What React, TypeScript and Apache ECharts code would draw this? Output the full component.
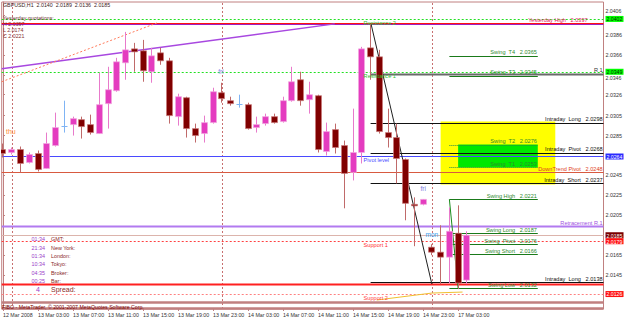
import React, { useEffect, useRef } from "react";
import * as echarts from "echarts";

// ---------------- data ----------------
const opens = [
  2.0271, 2.0268, 2.0271, 2.0258, 2.0267, 2.0252, 2.0275, 2.0295, 2.0296, 2.0301,
  2.0296, 2.0287, 2.0317, 2.0330, 2.0358, 2.0372, 2.0370, 2.0349, 2.0368, 2.0360,
  2.0304, 2.0323, 2.0292, 2.0287, 2.0298, 2.0328, 2.0320, 2.0317, 2.0316, 2.0293,
  2.0297, 2.0304, 2.0299, 2.0320, 2.0341, 2.0321, 2.0325, 2.0269, 2.0291, 2.0275,
  2.0248, 2.0268, 2.0373, 2.0364, 2.0288, 2.0283, 2.0261, 2.0216, 2.0216, 2.0173,
  2.0168, 2.0163, 2.0187, 2.0140,
];
const highs = [
  2.0277, 2.0273, 2.0274, 2.0268, 2.0270, 2.0288, 2.0308, 2.0320, 2.0304, 2.0304,
  2.0306, 2.0348, 2.0354, 2.0363, 2.0389, 2.0378, 2.0381, 2.0373, 2.0373, 2.0363,
  2.0327, 2.0324, 2.0297, 2.0305, 2.0333, 2.0338, 2.0324, 2.0326, 2.0318, 2.0304,
  2.0307, 2.0307, 2.0324, 2.0354, 2.0349, 2.0339, 2.0326, 2.0298, 2.0297, 2.0280,
  2.0312, 2.0374, 2.0397, 2.0371, 2.0312, 2.0297, 2.0262, 2.0223, 2.0221, 2.0176,
  2.0195, 2.0213, 2.0215, 2.0189,
];
const lows = [
  2.0263, 2.0266, 2.0248, 2.0257, 2.0249, 2.0252, 2.0274, 2.0288, 2.0285, 2.0282,
  2.0286, 2.0287, 2.0292, 2.0329, 2.0341, 2.0349, 2.0339, 2.0338, 2.0356, 2.0297,
  2.0295, 2.0283, 2.0278, 2.0278, 2.0297, 2.0318, 2.0315, 2.0313, 2.0291, 2.0288,
  2.0295, 2.0297, 2.0298, 2.0319, 2.0315, 2.0307, 2.0268, 2.0265, 2.0267, 2.0212,
  2.0240, 2.0257, 2.0341, 2.0287, 2.0273, 2.0237, 2.0200, 2.0174, 2.0215, 2.0165,
  2.0136, 2.0137, 2.0131, 2.0136,
];
const closes = [
  2.0267, 2.0271, 2.0257, 2.0266, 2.0251, 2.0277, 2.0293, 2.0295, 2.0302, 2.0294,
  2.0288, 2.0316, 2.0331, 2.0359, 2.0371, 2.0369, 2.0350, 2.0365, 2.0360, 2.0305,
  2.0324, 2.0292, 2.0285, 2.0298, 2.0329, 2.0322, 2.0317, 2.0317, 2.0292, 2.0296,
  2.0304, 2.0298, 2.0320, 2.0339, 2.0320, 2.0326, 2.0271, 2.0289, 2.0273, 2.0247,
  2.0268, 2.0372, 2.0364, 2.0289, 2.0283, 2.0262, 2.0217, 2.0215, 2.0221, 2.0168,
  2.0163, 2.0189, 2.0137, 2.0185,
];

const timeLabelBars = [0, 4, 8, 12, 16, 20, 24, 28, 32, 36, 40, 44, 48, 52];
const timeLabels = [
  "12 Mar 2008", "13 Mar 03:00", "13 Mar 07:00", "13 Mar 11:00", "13 Mar 15:00",
  "13 Mar 19:00", "13 Mar 23:00", "14 Mar 03:00", "14 Mar 07:00", "14 Mar 11:00",
  "14 Mar 15:00", "14 Mar 19:00", "14 Mar 23:00", "17 Mar 03:00",
];
const daySeparatorBars = [1, 25, 49];
const priceTicks = [
  2.0406, 2.0386, 2.0366, 2.0346, 2.0326, 2.0305, 2.0285, 2.0245, 2.0225, 2.0205, 2.0165, 2.0145,
];
const tickShiftUp = [2.0406];
const tickShiftDown = [2.0346];

const pivotNames = ["Resistance 2", "Resistance 1", "Pivot level", "Support 1", "Support 2"];
const pivotPrices = [2.0402, 2.0349, 2.0264, 2.0179, 2.0126];
const pivotLabelBar = 41.2;

const swingNames = [
  "Swing  T4", "Swing  T3", "Swing  T2", "Swing  T1", "Swing High",
  "Swing Long", "Swing  Pivot", "Swing Short", "Swing Low",
];
const swingPrices = [2.0365, 2.0345, 2.0276, 2.0253, 2.0221, 2.0187, 2.0176, 2.0166, 2.0132];
const swingFromBar = 51;
const swingToBar = 61.1;

const intradayNames = ["Intraday  Long", "Intraday  Pivot", "Intraday  Short", "Intraday  Long"];
const intradayPrices = [2.0298, 2.0268, 2.0237, 2.0138];
const intradayFromBar = 42;

const r1Price = 2.0347;
const downTrendPivot = 2.0248;
const retracementR1 = 2.0194;
const yesterdayHigh = 2.0397;
const yesterdayLow = 2.0174;
const yesterdayClose = 2.0221;
const bidPrice = 2.0185;
const redLevel = 2.0136;
const lowerBands = [2.0118, 2.0112];

const yellowZone = [50, 63.1, 2.0299, 2.0236];
const greenZone = [52, 61.1, 2.0276, 2.0253];

const purpleTrend = [[-0.148, 2.0352], [37.9, 2.0397]];
const orangeTrend = [[-0.148, 2.0339], [17.6, 2.0398]];
const blackTrend = [[42.05, 2.0397], [49, 2.0136]];
const greenTrend = [[51, 2.0221], [52, 2.0132]];
const yellowTrend = [[42.7, 2.012], [49, 2.0127], [52.5, 2.0128]];

const dayTags = ["thu", "fri", "fri", "mon"];
const dayTagBars = [0.9, 24.9, 48, 49];
const dayTagPrices = [2.0289, 2.0349, 2.0232, 2.0186];

const clockTimes = ["01:34", "21:34", "01:34", "10:34", "04:35", "00:25"];
const clockNames = ["GMT:", "New York:", "London:", "Tokyo:", "Broker:", "Bar:"];
const spreadValue = 4;

// ---------------- layout / style ----------------
const X_MIN = -0.148;
const X_MAX = 68.61;
const Y_MIN = 2.0111;
const Y_MAX = 2.0419;
const FONT = "Liberation Sans, Arial, sans-serif";
const ROSY = "#c08080";
const BULL = "#e43cbf";
const BULL_EDGE = "#f2a6df";
const BULL_WICK = "#e87acb";
const BEAR = "#800000";
const BEAR_EDGE = "#c87878";
const BEAR_WICK = "#c06a6a";
const DOJI = "#7fb4f4";

const STYLES: Record<string, any> = {
  res: { stroke: "#22e022", lineWidth: 1, lineDash: [2, 2] },
  yhRed: { stroke: "#ff1010", lineWidth: 1.2 },
  yhPurple: { stroke: "#a020c0", lineWidth: 1.2 },
  pivot: { stroke: "#4a4aff", lineWidth: 1 },
  sup1: { stroke: "#ff4040", lineWidth: 1, lineDash: [2, 2] },
  sup2: { stroke: "#ff8080", lineWidth: 1, lineDash: [2, 2] },
  down: { stroke: "#d85a40", lineWidth: 1 },
  retr: { stroke: "#b27af0", lineWidth: 2 },
  bid: { stroke: "#dcb4ac", lineWidth: 1 },
  red: { stroke: "#ff2020", lineWidth: 2 },
  band: { stroke: ROSY, lineWidth: 2.5 },
  intra: { stroke: "#111111", lineWidth: 1.2 },
  r1: { stroke: "#6a6a6a", lineWidth: 2 },
  swing: { stroke: "#1a7a1a", lineWidth: 1.2 },
  swingDot: { stroke: "#2a8a4a", lineWidth: 1, lineDash: [1, 1] },
  sep: { stroke: "#c87070", lineWidth: 1, lineDash: [2, 2] },
  tPurple: { stroke: "#a848e0", lineWidth: 1.4 },
  tOrange: { stroke: "#ff7a5a", lineWidth: 1, lineDash: [2, 2] },
  tBlack: { stroke: "#202020", lineWidth: 1 },
  tGreen: { stroke: "#1a8a1a", lineWidth: 1 },
  tYellow: { stroke: "#f0c030", lineWidth: 1 },
};

type Seg = { x1: number; x2: number; p1: number; p2: number; st: string };
type Lbl = { x: number; p: number; text: string; color: string; align: string; vAlign: string; size: number; dy: number };

function buildSegments(): Seg[] {
  const s: Seg[] = [];
  const full = (p: number, st: string) => s.push({ x1: X_MIN, x2: X_MAX, p1: p, p2: p, st });
  daySeparatorBars.forEach((b) => s.push({ x1: b, x2: b, p1: Y_MIN, p2: Y_MAX, st: "sep" }));
  pivotPrices.forEach((p, i) => full(p, ["res", "res", "pivot", "sup1", "sup2"][i]));
  full(yesterdayHigh + 0.0001, "yhRed");
  full(yesterdayHigh, "yhPurple");
  full(downTrendPivot, "down");
  full(retracementR1, "retr");
  full(bidPrice, "bid");
  full(redLevel, "red");
  lowerBands.forEach((p) => full(p, "band"));
  s.push({ x1: intradayFromBar, x2: X_MAX, p1: r1Price, p2: r1Price, st: "r1" });
  intradayPrices.forEach((p) => s.push({ x1: intradayFromBar, x2: X_MAX, p1: p, p2: p, st: "intra" }));
  swingPrices.forEach((p, i) =>
    s.push({ x1: swingFromBar, x2: swingToBar, p1: p, p2: p, st: i === 2 || i === 3 ? "swingDot" : "swing" })
  );
  const trend = (pts: number[][], st: string) => {
    for (let i = 0; i < pts.length - 1; i++)
      s.push({ x1: pts[i][0], x2: pts[i + 1][0], p1: pts[i][1], p2: pts[i + 1][1], st });
  };
  trend(purpleTrend, "tPurple");
  trend(orangeTrend, "tOrange");
  trend(blackTrend, "tBlack");
  trend(greenTrend, "tGreen");
  trend(yellowTrend, "tYellow");
  return s;
}

function buildLabels(): Lbl[] {
  const l: Lbl[] = [];
  const pivotColors = ["#30c030", "#30c030", "#4a4aff", "#ff3030", "#ff4040"];
  pivotNames.forEach((n, i) =>
    l.push({ x: pivotLabelBar, p: pivotPrices[i], text: n, color: pivotColors[i], align: "left", vAlign: "top", size: 5.6, dy: 1 })
  );
  swingNames.forEach((n, i) =>
    l.push({ x: swingToBar - 0.1, p: swingPrices[i], text: `${n}   ${swingPrices[i].toFixed(4)}`, color: "#2e8a2e", align: "right", vAlign: "bottom", size: 5.6, dy: -0.5 })
  );
  intradayNames.forEach((n, i) =>
    l.push({ x: X_MAX - 0.1, p: intradayPrices[i], text: `${n}   ${intradayPrices[i].toFixed(4)}`, color: "#111", align: "right", vAlign: "bottom", size: 5.6, dy: -0.5 })
  );
  l.push({ x: X_MAX - 0.1, p: r1Price, text: "R 1", color: "#333", align: "right", vAlign: "bottom", size: 5.6, dy: -1 });
  l.push({ x: X_MAX - 0.1, p: downTrendPivot, text: `DownTrend Pivot   ${downTrendPivot.toFixed(4)}`, color: "#e03c20", align: "right", vAlign: "bottom", size: 5.6, dy: -0.5 });
  l.push({ x: X_MAX - 0.1, p: retracementR1, text: "Retracement R.1", color: "#a050e0", align: "right", vAlign: "bottom", size: 5.6, dy: -0.5 });
  l.push({ x: 66.8, p: yesterdayHigh, text: `Yesterday High   ${yesterdayHigh.toFixed(4)}`, color: "#e02060", align: "right", vAlign: "bottom", size: 5.6, dy: -0.5 });
  const tagColors = ["#ff8a40", "#8a8ae8", "#7a7ae0", "#3aa0f0"];
  dayTags.forEach((t, i) =>
    l.push({ x: dayTagBars[i], p: dayTagPrices[i], text: t, color: tagColors[i], align: "center", vAlign: "middle", size: i === 0 ? 7 : 6.5, dy: 0 })
  );
  return l;
}

const priceBoxValues = [pivotPrices[0], pivotPrices[1], pivotPrices[2], bidPrice, pivotPrices[3], pivotPrices[4]];
const priceBoxBg = ["#00ff00", "#00ff00", "#2a2aff", "#7a0000", "#ff1010", "#ff1010"];
const priceBoxFg = ["#003000", "#003000", "#ffffff", "#ffffff", "#ffffff", "#ffffff"];

export default function App() {
  const ref = useRef<HTMLDivElement>(null);
  useEffect(() => {
    const chart = echarts.init(ref.current!, null, { renderer: "svg" });
    const segs = buildSegments();
    const labels = buildLabels();
    const candleData = opens.map((o, i) => [i, o, highs[i], lows[i], closes[i]]);
    const zones = [yellowZone, greenZone];
    const zoneFill = ["#ffff00", "#00e800"];

    const snap = (v: number) => Math.round(v) + 0.5;

    const graphicTexts: any[] = [];
    const gt = (x: number, y: number, text: string, fill: string, size: number, align = "left") =>
      graphicTexts.push({
        type: "text", x, y, z: 100,
        style: { text, fill, fontSize: size, fontFamily: FONT, align, verticalAlign: "middle" },
      });
    gt(3, 5, `GBPUSD,H1  ${opens[53].toFixed(4)}  ${highs[53].toFixed(4)}  ${lows[53].toFixed(4)}  ${closes[53].toFixed(4)}`, "#3a2020", 5.3);
    gt(3, 18, "Yesterday quotations:", "#6a3030", 5.3);
    gt(3, 24, `H ${yesterdayHigh.toFixed(4)}`, "#8a3030", 5.3);
    gt(3, 30, `L ${yesterdayLow.toFixed(4)}`, "#8a3030", 5.3);
    gt(3, 36, `C ${yesterdayClose.toFixed(4)}`, "#8a3030", 5.3);
    clockTimes.forEach((t, i) => {
      const y = [239, 248, 256, 264, 273, 281][i];
      gt(45, y, t, "#9a40c8", 5.4, "right");
      gt(51, y, clockNames[i], "#8a2a2a", 5.4);
    });
    gt(40, 289, String(spreadValue), "#9a40c8", 7, "right");
    gt(51, 289, "Spread:", "#8a2a2a", 7);
    gt(2, 307, "FIBO - MetaTrader, \u00a9 2001-2007 MetaQuotes Software Corp.", "#7a0000", 5.2);

    const option: any = {
      animation: false,
      backgroundColor: "#ffffff",
      grid: { left: 1, right: 21, top: 2, bottom: 13, show: true, borderColor: ROSY, borderWidth: 1, backgroundColor: "#ffffff" },
      xAxis: {
        type: "value", min: X_MIN, max: X_MAX,
        splitLine: { show: false },
        axisLine: { show: false },
        axisTick: { show: true, customValues: timeLabelBars, length: 2, lineStyle: { color: ROSY } },
        axisLabel: {
          customValues: timeLabelBars,
          formatter: (v: number) => timeLabels[timeLabelBars.indexOf(Math.round(v))] ?? "",
          align: "left", margin: 3, fontSize: 5.3, color: "#333", fontFamily: FONT,
        },
      },
      yAxis: {
        type: "value", position: "right", min: Y_MIN, max: Y_MAX,
        splitLine: { show: false },
        axisLine: { show: true, lineStyle: { color: ROSY } },
        axisTick: { show: true, customValues: priceTicks, length: 2, lineStyle: { color: ROSY } },
        axisLabel: {
          customValues: priceTicks,
          formatter: (v: number) => {
            const t = v.toFixed(4);
            if (tickShiftUp.some((u) => Math.abs(u - v) < 1e-6)) return `{up|${t}}`;
            if (tickShiftDown.some((u) => Math.abs(u - v) < 1e-6)) return `{dn|${t}}`;
            return t;
          },
          rich: {
            up: { padding: [0, 0, 7, 0], fontSize: 5.2, color: "#333", fontFamily: FONT },
            dn: { padding: [7, 0, 0, 0], fontSize: 5.2, color: "#333", fontFamily: FONT },
          },
          margin: 2, fontSize: 5.4, color: "#333", fontFamily: FONT,
        },
      },
      series: [
        {
          type: "custom", name: "zones", z: 1, clip: true,
          data: zones.map((zn) => [zn[0], zn[1], zn[2], zn[3]]),
          encode: { x: [0, 1], y: [2, 3] },
          renderItem: (params: any, api: any) => {
            const a = api.coord([api.value(0), api.value(2)]);
            const b = api.coord([api.value(1), api.value(3)]);
            return {
              type: "rect",
              shape: { x: a[0], y: a[1], width: b[0] - a[0], height: b[1] - a[1] },
              style: { fill: zoneFill[params.dataIndex] },
            };
          },
        },
        {
          type: "custom", name: "levels", z: 2, clip: false,
          data: segs.map((s) => [s.x1, s.x2, s.p1, s.p2]),
          encode: { x: [0, 1], y: [2, 3] },
          renderItem: (params: any, api: any) => {
            const s = segs[params.dataIndex];
            const a = api.coord([s.x1, s.p1]);
            const b = api.coord([s.x2, s.p2]);
            let y1 = a[1], y2 = b[1], x1 = a[0], x2 = b[0];
            if (s.p1 === s.p2) { y1 = snap(y1); y2 = y1; }
            if (s.x1 === s.x2) { x1 = snap(x1); x2 = x1; }
            return { type: "line", shape: { x1, y1, x2, y2 }, style: { ...STYLES[s.st], fill: null } };
          },
        },
        {
          type: "custom", name: "GBPUSD,H1", z: 3, clip: true,
          data: candleData,
          encode: { x: 0, y: [1, 2, 3, 4] },
          renderItem: (params: any, api: any) => {
            const x = api.value(0), o = api.value(1), h = api.value(2), l = api.value(3), c = api.value(4);
            const pO = api.coord([x, o]);
            const pC = api.coord([x, c]);
            const pH = api.coord([x, h]);
            const pL = api.coord([x, l]);
            const cx = snap(pO[0] - 0.5);
            const doji = Math.abs(o - c) < 1e-6;
            const bull = c > o;
            const children: any[] = [
              { type: "line", shape: { x1: cx, y1: pH[1], x2: cx, y2: pL[1] }, style: { stroke: doji ? DOJI : bull ? BULL_WICK : BEAR_WICK, lineWidth: 1 } },
            ];
            if (doji) {
              children.push({ type: "line", shape: { x1: cx - 3, y1: snap(pO[1]), x2: cx + 3, y2: snap(pO[1]) }, style: { stroke: DOJI, lineWidth: 1 } });
            } else {
              const top = Math.min(pO[1], pC[1]);
              const bot = Math.max(pO[1], pC[1]);
              children.push({
                type: "rect",
                shape: { x: cx - 3, y: top, width: 6, height: Math.max(1.5, bot - top) },
                style: { fill: bull ? BULL : BEAR, stroke: bull ? BULL_EDGE : BEAR_EDGE, lineWidth: 0.7 },
              });
            }
            return { type: "group", children };
          },
        },
        {
          type: "custom", name: "labels", z: 5, clip: false,
          data: labels.map((lb) => [lb.x, lb.p]),
          encode: { x: 0, y: 1 },
          renderItem: (params: any, api: any) => {
            const lb = labels[params.dataIndex];
            const p = api.coord([lb.x, lb.p]);
            return {
              type: "text",
              x: p[0], y: p[1] + lb.dy,
              style: { text: lb.text, fill: lb.color, fontSize: lb.size, fontFamily: FONT, align: lb.align, verticalAlign: lb.vAlign },
            };
          },
        },
        {
          type: "custom", name: "priceBoxes", z: 10, clip: false,
          data: priceBoxValues.map((v) => [X_MAX, v]),
          encode: { x: 0, y: 1 },
          renderItem: (params: any, api: any) => {
            const i = params.dataIndex;
            const p = api.coord([X_MAX, priceBoxValues[i]]);
            return {
              type: "group",
              children: [
                { type: "rect", shape: { x: p[0] + 2, y: p[1] - 3, width: 18, height: 6 }, style: { fill: priceBoxBg[i] } },
                {
                  type: "text", x: p[0] + 3, y: p[1] + 0.3,
                  style: { text: priceBoxValues[i].toFixed(4), fill: priceBoxFg[i], fontSize: 5.2, fontFamily: FONT, align: "left", verticalAlign: "middle" },
                },
              ],
            };
          },
        },
      ],
      graphic: graphicTexts,
    };
    chart.setOption(option);
    return () => chart.dispose();
  }, []);
  return (
    <div
      ref={ref}
      style={{ position: "fixed", left: 0, top: 0, width: 625, height: 322, background: "#ffffff" }}
    />
  );
}
